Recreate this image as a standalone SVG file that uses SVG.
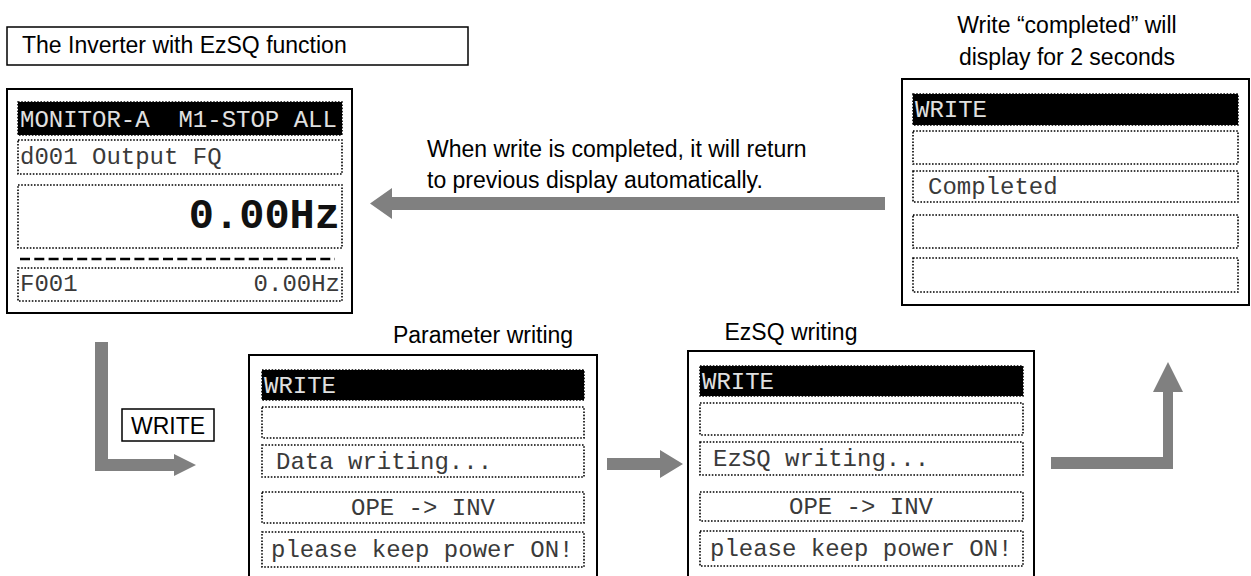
<svg xmlns="http://www.w3.org/2000/svg" width="1251" height="576" viewBox="0 0 1251 576">
<style>
.frame{fill:#fff;stroke:#000;stroke-width:2}
.row{fill:#fff;stroke:#000;stroke-width:1.6;stroke-dasharray:1.6 1.6}
.bar{fill:#000;stroke:#000;stroke-width:1.6;stroke-dasharray:1.6 1.6}
.mono{font-family:"Liberation Mono","Courier New",monospace;font-size:24px;fill:#3a3a3a}
.inv{font-family:"Liberation Mono","Courier New",monospace;font-size:24px;fill:#e0e0e0}
.big{font-family:"Liberation Mono","Courier New",monospace;font-size:42px;font-weight:bold;fill:#111}
.sans{font-family:"Liberation Sans",Arial,sans-serif;font-size:23px;fill:#000}
.arrow{fill:#808080}
</style>
<rect width="1251" height="576" fill="#fff"/>

<g id="title">
<rect x="7" y="27" width="461" height="38" fill="#fff" stroke="#000" stroke-width="1.5"/>
<text class="sans" x="22" y="53">The Inverter with EzSQ function</text>
</g>

<g id="monitor">
<rect class="frame" x="7" y="89" width="345" height="224"/>
<rect class="bar" x="18" y="102" width="324" height="33"/>
<text class="inv" x="20" y="127" xml:space="preserve">MONITOR-A  M1-STOP ALL</text>
<rect class="row" x="18" y="140" width="324" height="34"/>
<text class="mono" x="20" y="164">d001 Output FQ</text>
<rect class="row" x="18" y="185" width="324" height="63"/>
<text class="big" x="340" y="228" text-anchor="end">0.00Hz</text>
<line x1="20" y1="259" x2="335" y2="259" stroke="#000" stroke-width="2.5" stroke-dasharray="10 4.3"/>
<rect class="row" x="18" y="268" width="324" height="33"/>
<text class="mono" x="20" y="291">F001</text>
<text class="mono" x="340" y="291" text-anchor="end">0.00Hz</text>
</g>

<g id="param-writing">
<text class="sans" x="483" y="343" text-anchor="middle">Parameter writing</text>
<rect class="frame" x="249" y="355" width="348" height="230"/>
<rect class="bar" x="262" y="370" width="322" height="30"/>
<text class="inv" x="264" y="393">WRITE</text>
<rect class="row" x="262" y="407" width="322" height="31"/>
<rect class="row" x="262" y="445" width="322" height="32"/>
<text class="mono" x="276" y="469">Data writing...</text>
<rect class="row" x="262" y="492" width="322" height="31"/>
<text class="mono" x="423" y="515" text-anchor="middle">OPE -&gt; INV</text>
<rect class="row" x="262" y="532" width="322" height="35"/>
<text class="mono" x="271" y="557">please keep power ON!</text>
</g>

<g id="ezsq-writing">
<text class="sans" x="791" y="340" text-anchor="middle">EzSQ writing</text>
<rect class="frame" x="688" y="351" width="346" height="234"/>
<rect class="bar" x="700" y="366" width="323" height="30"/>
<text class="inv" x="702" y="389">WRITE</text>
<rect class="row" x="700" y="403" width="323" height="32"/>
<rect class="row" x="700" y="442" width="323" height="33"/>
<text class="mono" x="713" y="466">EzSQ writing...</text>
<rect class="row" x="700" y="492" width="323" height="29"/>
<text class="mono" x="861" y="514" text-anchor="middle">OPE -&gt; INV</text>
<rect class="row" x="700" y="531" width="323" height="35"/>
<text class="mono" x="710" y="556">please keep power ON!</text>
</g>

<g id="completed">
<text class="sans" x="1067" y="33" text-anchor="middle">Write “completed” will</text>
<text class="sans" x="1067" y="65" text-anchor="middle">display for 2 seconds</text>
<rect class="frame" x="902" y="79" width="347" height="226"/>
<rect class="bar" x="913" y="94" width="325" height="31"/>
<text class="inv" x="915" y="117">WRITE</text>
<rect class="row" x="913" y="131" width="325" height="33"/>
<rect class="row" x="913" y="171" width="325" height="31"/>
<text class="mono" x="928" y="194">Completed</text>
<rect class="row" x="913" y="215" width="325" height="33"/>
<rect class="row" x="913" y="258" width="325" height="34"/>
</g>

<g id="write-key">
<rect x="122" y="409" width="92" height="32" fill="#fff" stroke="#000" stroke-width="1.5"/>
<text class="sans" x="168" y="434" text-anchor="middle">WRITE</text>
</g>

<g id="connectors">
<polygon class="arrow" points="95,342 108,342 108,459 174,459 174,454 196,465 174,476 174,471 95,471"/>
<polygon class="arrow" points="607,458 660,458 660,450 683,464 660,478 660,470 607,470"/>
<polygon class="arrow" points="1051,457 1163,457 1163,392 1153,392 1168,362 1183,392 1173,392 1173,469 1051,469"/>
<polygon class="arrow" points="885,197 392,197 392,188 370,203.5 392,219 392,210 885,210"/>
<text class="sans" x="427" y="157">When write is completed, it will return</text>
<text class="sans" x="427" y="188">to previous display automatically.</text>
</g>
</svg>
